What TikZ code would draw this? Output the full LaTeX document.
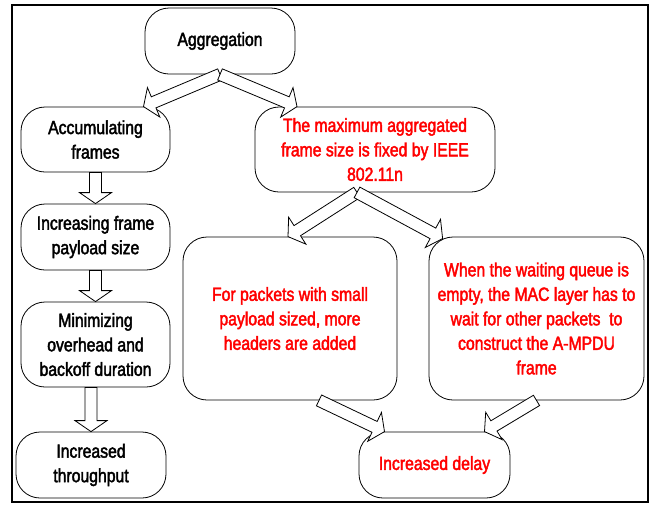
\documentclass[tikz,border=0pt]{standalone}
\usepackage{fontspec}
\setmainfont[FakeStretch=0.83, FakeBold=2.2]{Liberation Sans}
\usepackage{tikz}
\usetikzlibrary{calc}

\tikzset{
  box/.style={draw, line width=0.8pt, rounded corners=24pt, align=center, inner sep=0pt,
    font=\fontsize{19}{24.5}\selectfont},
  redbox/.style={box, text=red},
  fat/.style={draw, fill=white, line width=0.8pt, to path={
    let \p1=(\tikztostart), \p2=(\tikztotarget), \p3=($(\p2)!11pt!(\p1)$) in
    ($(\p1)!6pt!90:(\p2)$) -- ($(\p3)!6pt!90:(\p2)$) -- ($(\p3)!16pt!90:(\p2)$)
    -- (\p2) -- ($(\p3)!16pt!-90:(\p2)$) -- ($(\p3)!6pt!-90:(\p2)$)
    -- ($(\p1)!6pt!-90:(\p2)$) -- cycle}}
}

\begin{document}
\begin{tikzpicture}[x=1pt, y=-1pt]
    \useasboundingbox (0,0) rectangle (660,504);
    \draw[line width=2pt] (12,5) rectangle (648,502);
    % left column
    \node[box, minimum width=150pt, minimum height=66pt] (agg) at (220,41) {Aggregation};
    \node[box, minimum width=149pt, minimum height=65pt] (acc) at (95.5,139.5) {Accumulating\\frames};
    \node[box, minimum width=149pt, minimum height=66pt] (inc) at (95.5,237) {Increasing frame\\payload size};
    \node[box, minimum width=149pt, minimum height=85pt] (min) at (95.5,344.5) {Minimizing\\overhead and\\backoff duration};
    \node[box, minimum width=150pt, minimum height=66pt] (thr) at (91,465) {Increased\\throughput};
    % right side
    \node[redbox, minimum width=240pt, minimum height=85pt] (max) at (375,149.5) {The maximum aggregated\\frame size is fixed by IEEE\\802.11n};
    \node[redbox, minimum width=214pt, minimum height=163pt] (small) at (290,318.5) {For packets with small\\payload sized, more\\headers are added};
    \node[redbox, minimum width=215pt, minimum height=163pt] (queue) at (536.5,318.5) {When the waiting queue is\\empty, the MAC layer has to\\wait for other packets\ \ to\\construct the A-MPDU\\frame};
    \node[redbox, minimum width=151pt, minimum height=66pt] (delay) at (434.5,465) {Increased delay};
    % arrows
    \draw[fat] (agg.south) to ([xshift=48pt]acc.north);
    \draw[fat] (agg.south) to ([xshift=-78pt]max.north);
    \draw[fat] (acc.south) to (inc.north);
    \draw[fat] (inc.south) to (min.north);
    \draw[fat] (min.south -| thr.north) to (thr.north);
    \draw[fat] ([xshift=-18pt]max.south) to ([xshift=-2pt]small.north);
    \draw[fat] ([xshift=-18pt]max.south) to ([xshift=14pt, yshift=-2pt]queue.north west);
    \draw[fat] ([xshift=29pt]small.south) to ([xshift=-50pt]delay.north);
    \draw[fat] (queue.south) to ([xshift=50pt]delay.north);
\end{tikzpicture}
\end{document}
